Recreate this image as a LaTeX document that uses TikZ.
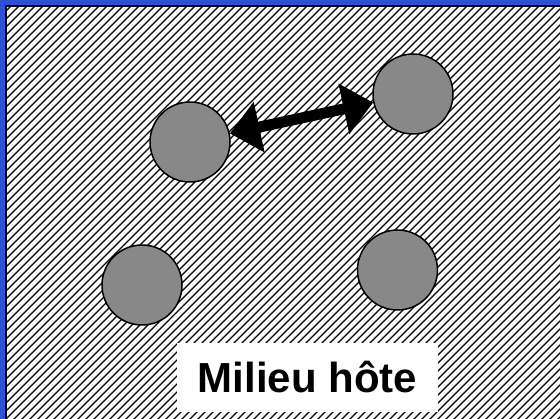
\documentclass[tikz,border=0pt]{standalone}
\usepackage{fontspec}
\setmainfont{Liberation Sans}
\usetikzlibrary{arrows.meta}
\definecolor{frameblue}{RGB}{46,80,214}
\definecolor{circgray}{RGB}{136,136,136}
\tikzset{
  particle/.style={circle, minimum size=80pt, inner sep=0pt, fill=circgray, draw=black, line width=1.5pt},
  hatch/.style={line width=1.2pt, black},
  dblarrow/.style={line width=11pt, {Triangle[length=30pt,width=50pt]}-{Triangle[length=30pt,width=50pt]}},
  labelbox/.style={fill=white, minimum width=261pt, minimum height=69pt, inner sep=0pt,
    font=\fontsize{42}{50}\selectfont\bfseries, text height=30pt, text depth=0pt}
}
\begin{document}
\begin{tikzpicture}[x=1pt,y=-1pt]
\useasboundingbox (0,0) rectangle (560,419);
\fill[frameblue] (0,0) rectangle (560,419);
\fill[black] (5,5) rectangle (560,419);
\fill[white] (7,7) rectangle (560,419);
\begin{scope}
\clip (7,7) rectangle (560,419);
\foreach \x in {-424,-416,...,565} {
  \draw[hatch] (\x,425) -- (\x+425,0);
}
\end{scope}
\node[particle] (c1) at (190,142) {};
\node[particle] (c2) at (413,94) {};
\node[particle] (c3) at (142,285) {};
\node[particle] (c4) at (397.5,270) {};
\draw[dblarrow] (c1) -- (c2);
\node[labelbox] (lbl) at (307.5,377.5) {Milieu hôte};
\end{tikzpicture}
\end{document}
